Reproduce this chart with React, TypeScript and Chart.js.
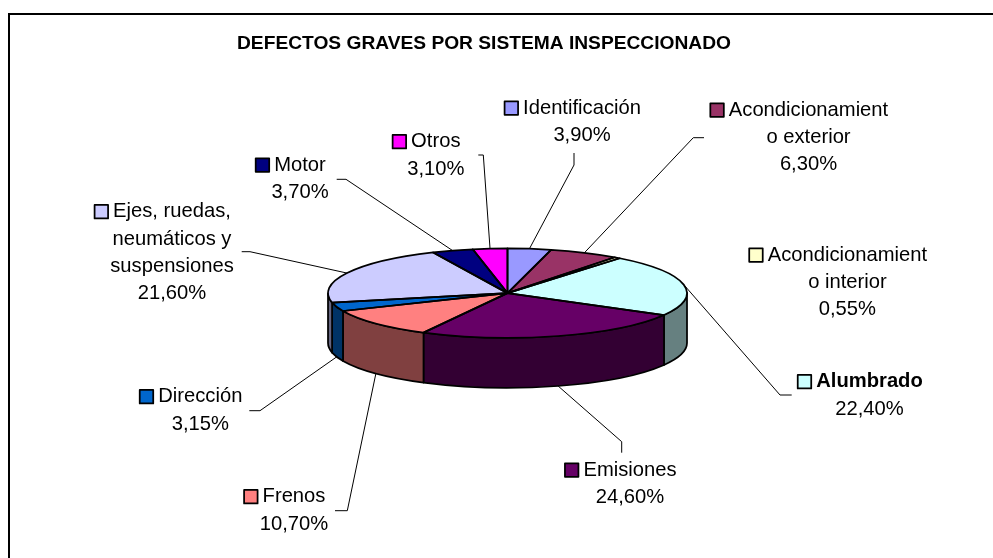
import React, { useEffect, useRef } from 'react';
import { Chart, registerables } from 'chart.js';

Chart.register(...registerables);

// ---- data ----
const chartTitle = 'DEFECTOS GRAVES POR SISTEMA INSPECCIONADO';
const categories = [
  'Identificación',
  'Acondicionamiento exterior',
  'Acondicionamiento interior',
  'Alumbrado',
  'Emisiones',
  'Frenos',
  'Dirección',
  'Ejes, ruedas, neumáticos y suspensiones',
  'Motor',
  'Otros',
];
const values = [3.9, 6.3, 0.55, 22.4, 24.6, 10.7, 3.15, 21.6, 3.7, 3.1];
// category text as wrapped in the label boxes
const labelLines = [
  ['Identificación'],
  ['Acondicionamient', 'o exterior'],
  ['Acondicionamient', 'o interior'],
  ['Alumbrado'],
  ['Emisiones'],
  ['Frenos'],
  ['Dirección'],
  ['Ejes, ruedas,', 'neumáticos y', 'suspensiones'],
  ['Motor'],
  ['Otros'],
];

// ---- styles / layout ----
const colors = ['#9999FF', '#993366', '#FFFFCC', '#CCFFFF', '#660066', '#FF8080', '#0066CC', '#CCCCFF', '#000080', '#FF00FF'];
const boldFirstLine = [false, false, false, true, false, false, false, false, false, false];
const labelCenters = [
  [582, 108], [808.5, 110], [847.4, 255], [869.5, 381.7], [630, 470],
  [294, 496.7], [200.3, 396.7], [172, 211.7], [300, 165], [435.8, 141.7],
];
const leaderElbows: (number[][] | null)[] = [
  [[574, 153], [574, 165]],
  [[704, 137.7], [693.3, 137.7]],
  null,
  [[791.7, 395], [780, 395]],
  [[621.7, 452.7], [621.7, 441.7]],
  [[335, 510.7], [347.3, 510.7]],
  [[249.3, 410.7], [260, 410.7]],
  [[241.7, 251.7], [250, 251.7]],
  [[336.7, 179.3], [346, 179.3]],
  [[478.3, 155], [483.3, 155]],
];
const FONT = '"Liberation Sans", Arial, sans-serif';
const TILT = 0.249;
const DEPTH = 50;
const LINE_H = 27.3;

function shade(hex: string, f: number) {
  const n = parseInt(hex.slice(1), 16);
  const r = Math.round(((n >> 16) & 255) * f);
  const g = Math.round(((n >> 8) & 255) * f);
  const b = Math.round((n & 255) * f);
  return `rgb(${r},${g},${b})`;
}

const pie3d = {
  id: 'pie3d',
  beforeDraw(chart: any) {
    const ctx = chart.ctx;
    ctx.save();
    ctx.strokeStyle = '#000';
    ctx.lineWidth = 2;
    ctx.strokeRect(9, 14, 2000, 2000);
    ctx.restore();
  },
  beforeDatasetsDraw(chart: any) {
    const ctx = chart.ctx;
    const arcs = chart.getDatasetMeta(0).data as any[];
    const cx = arcs[0].x, cy = arcs[0].y, R = arcs[0].outerRadius;
    const ry = R * TILT;
    ctx.save();
    ctx.lineWidth = 1.75;
    ctx.strokeStyle = '#000';
    ctx.lineJoin = 'round';
    arcs.forEach((arc, i) => {
      const a = Math.max(arc.startAngle, 0);
      const b = Math.min(arc.endAngle, Math.PI);
      if (b <= a) return;
      ctx.beginPath();
      ctx.ellipse(cx, cy, R, ry, 0, a, b, false);
      ctx.lineTo(cx + R * Math.cos(b), cy + ry * Math.sin(b) + DEPTH);
      ctx.ellipse(cx, cy + DEPTH, R, ry, 0, b, a, true);
      ctx.closePath();
      ctx.fillStyle = shade(colors[i], 0.5);
      ctx.fill();
      ctx.stroke();
    });
    ctx.restore();
    ctx.save();
    ctx.translate(cx, cy);
    ctx.scale(1, TILT);
    ctx.translate(-cx, -cy);
  },
  afterDatasetsDraw(chart: any) {
    const ctx = chart.ctx;
    ctx.restore();
    const arcs = chart.getDatasetMeta(0).data as any[];
    const cx = arcs[0].x, cy = arcs[0].y, R = arcs[0].outerRadius;
    const ry = R * TILT;
    ctx.save();
    ctx.lineWidth = 1.75;
    ctx.strokeStyle = '#000';
    ctx.lineJoin = 'round';
    arcs.forEach((arc) => {
      ctx.beginPath();
      ctx.moveTo(cx, cy);
      ctx.lineTo(cx + R * Math.cos(arc.startAngle), cy + ry * Math.sin(arc.startAngle));
      ctx.ellipse(cx, cy, R, ry, 0, arc.startAngle, arc.endAngle, false);
      ctx.closePath();
      ctx.stroke();
    });
    // leader lines
    ctx.lineWidth = 1;
    arcs.forEach((arc, i) => {
      const el = leaderElbows[i];
      if (!el) return;
      const mid = (arc.startAngle + arc.endAngle) / 2;
      const s = Math.sin(mid);
      const ax = cx + R * Math.cos(mid);
      const ay = cy + ry * s + (s > 0 ? DEPTH : 0);
      ctx.beginPath();
      ctx.moveTo(el[0][0], el[0][1]);
      ctx.lineTo(el[1][0], el[1][1]);
      ctx.lineTo(ax, ay);
      ctx.stroke();
    });
    // labels
    ctx.textAlign = 'center';
    ctx.textBaseline = 'middle';
    const total = values.reduce((p, v) => p + v, 0);
    categories.forEach((_, i) => {
      const [lx, ly] = labelCenters[i];
      const pct = ((values[i] / total) * 100).toFixed(2).replace('.', ',') + '%';
      const lines = [...labelLines[i], pct];
      lines.forEach((t, j) => {
        ctx.font = `${j === 0 && boldFirstLine[i] ? 'bold ' : ''}20.2px ${FONT}`;
        ctx.fillStyle = '#000';
        ctx.fillText(t, lx, ly + j * LINE_H);
      });
      ctx.font = `${boldFirstLine[i] ? 'bold ' : ''}20.2px ${FONT}`;
      const w = ctx.measureText(lines[0]).width;
      const kx = lx - w / 2 - 5 - 13.5;
      ctx.fillStyle = colors[i];
      ctx.fillRect(kx, ly - 6.75, 13.5, 13.5);
      ctx.lineWidth = 1.75;
      ctx.strokeRect(kx, ly - 6.75, 13.5, 13.5);
    });
    ctx.restore();
  },
};

export default function App() {
  const ref = useRef<HTMLCanvasElement | null>(null);
  useEffect(() => {
    if (!ref.current) return;
    const chart = new Chart(ref.current, {
      type: 'pie',
      data: {
        labels: categories,
        datasets: [
          {
            data: values,
            backgroundColor: colors,
            borderWidth: 0,
            clip: false as any,
          } as any,
        ],
      },
      options: {
        responsive: false,
        animation: false,
        events: [],
        radius: 179.5,
        layout: { padding: { left: 237, right: 215, top: 0, bottom: 38.4 } },
        plugins: {
          legend: { display: false },
          tooltip: { enabled: false },
          title: {
            display: true,
            text: chartTitle,
            align: 'start',
            color: '#000',
            font: { family: FONT, size: 19.2, weight: 'bold' },
            padding: { top: 32.6, bottom: 11 },
          },
        },
      } as any,
      plugins: [pie3d as any],
    });
    return () => chart.destroy();
  }, []);
  return (
    <div style={{ position: 'fixed', left: 0, top: 0, width: 993, height: 558, background: '#fff' }}>
      <canvas ref={ref} width={993} height={558} style={{ width: 993, height: 558, display: 'block' }} />
    </div>
  );
}
